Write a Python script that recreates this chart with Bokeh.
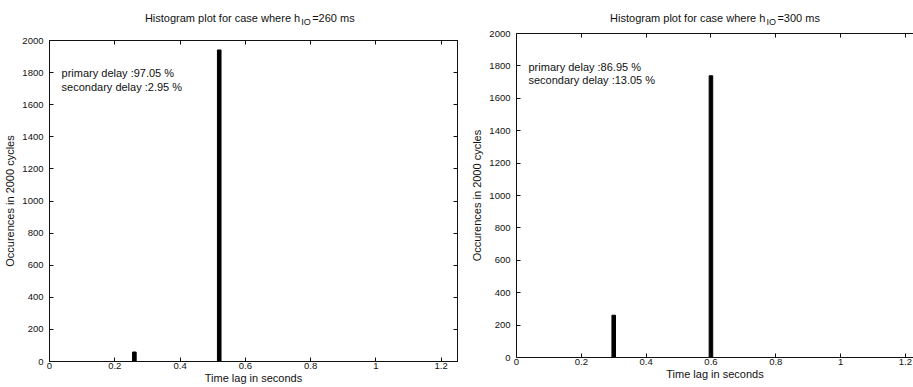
from bokeh.plotting import figure
from bokeh.layouts import row, column
from bokeh.models import Range1d, FixedTicker, LinearAxis, ColumnDataSource
from bokeh.core.properties import value
from bokeh.embed import file_html
from bokeh.resources import INLINE

FONT = "Liberation Sans"
INK = "#111111"

# ---- data ----
x_ticks = [0, 0.2, 0.4, 0.6, 0.8, 1.0, 1.2]
x_tick_labels = ["0", "0.2", "0.4", "0.6", "0.8", "1", "1.2"]
y_ticks = [0, 200, 400, 600, 800, 1000, 1200, 1400, 1600, 1800, 2000]

left_delay_s = [0.26, 0.52]
left_occurrences = [59, 1941]
left_notes = ["primary delay :97.05 %", "secondary delay :2.95 %"]
left_hio = "=260 ms"

right_delay_s = [0.30, 0.60]
right_occurrences = [261, 1739]
right_notes = ["primary delay :86.95 %", "secondary delay :13.05 %"]
right_hio = "=300 ms"

title_main = "Histogram plot for case where h"
title_sub = "IO"
x_label = "Time lag in seconds"
y_label = "Occurences in 2000 cycles"

# ---- layout constants ----
note_x = 0.037
note_y = [1795, 1710]
bar_w = 0.011
title_anchor = 0.768
TOTAL_H = 386


def style_axis(ax, show_labels=True):
    ax.axis_line_color = INK
    ax.major_tick_line_color = INK
    ax.major_tick_in = 4
    ax.major_tick_out = 0
    ax.minor_tick_line_color = None
    ax.major_label_text_font = FONT
    ax.major_label_text_font_size = "9.5px"
    ax.major_label_text_color = INK
    if not show_labels:
        ax.major_label_text_font_size = "0px"
        ax.major_label_text_color = None
        ax.major_label_standoff = 0


def make_panel(delays, counts, notes, hio, width, x_end, strip_h, left,
               right, bottom, box_right=True):
    xr = Range1d(0, x_end)

    # title strip (same horizontal frame as the plot below it)
    t = figure(width=width, height=strip_h, output_backend="svg",
               toolbar_location=None, x_range=xr,
               y_range=Range1d(0, strip_h), x_axis_type=None,
               y_axis_type=None, min_border_left=left,
               min_border_right=right, min_border_top=0, min_border_bottom=0)
    t.outline_line_color = None
    t.xgrid.grid_line_color = None
    t.ygrid.grid_line_color = None
    base_y = strip_h - 17
    t.text(x=[title_anchor], y=[base_y], text=[title_main],
           text_font=value(FONT), text_font_size="11px", text_align="right",
           text_baseline="alphabetic", text_color=INK)
    t.text(x=[title_anchor], y=[base_y - 4], text=[title_sub], x_offset=1,
           text_font=value(FONT), text_font_size="9px", text_align="left",
           text_baseline="alphabetic", text_color=INK)
    t.text(x=[title_anchor], y=[base_y], text=[hio], x_offset=12,
           text_font=value(FONT), text_font_size="11px", text_align="left",
           text_baseline="alphabetic", text_color=INK)

    p = figure(width=width, height=TOTAL_H - strip_h, output_backend="svg",
               toolbar_location=None, x_range=xr, y_range=Range1d(0, 2000),
               min_border_left=left, min_border_right=right,
               min_border_top=4, min_border_bottom=bottom)
    p.outline_line_color = INK if box_right else None
    p.xgrid.grid_line_color = None
    p.ygrid.grid_line_color = None

    src = ColumnDataSource(dict(x=delays, top=counts))
    p.vbar(x="x", top="top", width=bar_w, bottom=0, source=src,
           fill_color="black", line_color="black")

    nsrc = ColumnDataSource(dict(x=[note_x] * len(notes), y=note_y, t=notes))
    p.text(x="x", y="y", text="t", source=nsrc, text_font=value(FONT),
           text_font_size="11px", text_baseline="middle", text_color=INK)

    xa = p.xaxis[0]
    xa.ticker = FixedTicker(ticks=x_ticks)
    xa.major_label_overrides = {k: l for k, l in zip(x_ticks, x_tick_labels)}
    style_axis(xa)
    xa.major_label_standoff = 1
    xa.axis_label = x_label
    xa.axis_label_standoff = 0
    xa.axis_label_text_font = FONT
    xa.axis_label_text_font_size = "11px"
    xa.axis_label_text_font_style = "normal"
    xa.axis_label_text_color = INK

    ya = p.yaxis[0]
    ya.ticker = FixedTicker(ticks=y_ticks)
    style_axis(ya)
    ya.major_label_standoff = 6
    ya.axis_label = y_label
    ya.axis_label_standoff = 3
    ya.axis_label_text_font = FONT
    ya.axis_label_text_font_size = "11px"
    ya.axis_label_text_font_style = "normal"
    ya.axis_label_text_color = INK

    top_ax = LinearAxis(ticker=FixedTicker(ticks=x_ticks))
    style_axis(top_ax, show_labels=False)
    p.add_layout(top_ax, "above")
    if box_right:
        right_ax = LinearAxis(ticker=FixedTicker(ticks=y_ticks))
        style_axis(right_ax, show_labels=False)
        p.add_layout(right_ax, "right")
    return column(t, p)


c1 = make_panel(left_delay_s, left_occurrences, left_notes, left_hio,
                width=468, x_end=1.25, strip_h=36, left=49, right=11,
                bottom=24)
c2 = make_panel(right_delay_s, right_occurrences, right_notes, right_hio,
                width=445, x_end=1.225, strip_h=29, left=42, right=0,
                bottom=29, box_right=False)

layout = row(c1, c2)
open("out.html", "w").write(file_html(layout, INLINE))
